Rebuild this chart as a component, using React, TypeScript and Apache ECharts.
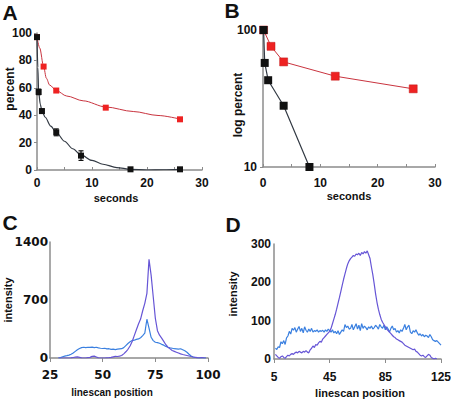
import React, { useEffect, useRef } from 'react';
import * as echarts from 'echarts';

// ---------- Panel A (percent vs seconds) ----------
const aBlackX = [0, 0.3, 0.9, 3.5, 8, 17, 26];
const aBlackY = [97, 57, 43, 27.5, 10.5, 0.5, 0.5];
const aBlackErr = [0, 2, 1.5, 2.5, 3.5, 0.8, 0.8];
const aRedX = [0, 1.2, 3.5, 12.5, 26];
const aRedY = [97, 75.5, 58, 45.5, 37];
// fitted curves
const aBlackFitX = [0, 0.15, 0.3, 0.6, 0.9, 1.5, 2.5, 3.5, 5, 6.5, 8, 10, 12, 14.5, 17, 20, 23, 26];
const aBlackFitY = [97, 75, 57, 48, 43, 38.5, 32, 27.5, 21, 15.5, 11, 7, 4.2, 1.8, 0.5, 0, 0.2, 0.5];
const aRedFitX = [0, 0.5, 1.2, 1.7, 2.3, 3.5, 5.4, 8.4, 12.5, 17.5, 22, 26];
const aRedFitY = [97, 89, 75.5, 67, 62, 58, 54, 50.5, 46, 42.7, 39.8, 37.2];

// ---------- Panel B (log percent vs seconds) ----------
const bBlackX = [0.1, 0.3, 0.9, 3.6, 8.1];
const bBlackY = [100, 57.5, 43, 28, 10];
const bRedX = [0.1, 1.4, 3.6, 12.6, 26.2];
const bRedY = [100, 76, 58.5, 46, 37.2];

// ---------- Panel C (intensity vs linescan position 29..99) ----------
const cStart = 29;
const cBlue = [
  0, 5, 15, 22, 28, 35, 45, 60, 80, 100,
  115, 125, 130, 125, 130, 128, 132, 126, 130, 122,
  118, 115, 118, 110, 112, 105, 108, 102, 106, 110,
  112, 125, 150, 175, 195, 210, 215, 225, 230, 245,
  270, 300, 468, 360, 250, 210, 190, 185, 178, 165,
  155, 140, 130, 122, 118, 112, 110, 108, 112, 100,
  88, 70, 45, 25, 12, 6, 0, 0, 0, 0, 0,
];
const cPurple = [
  0, 0, 0, 0, 0, 0, 2, 6, 10, 14,
  8, 2, 0, 0, 4, 8, 20, 22, 12, 2,
  0, 0, 0, 2, 4, 8, 14, 20, 18, 22,
  30, 50, 75, 105, 145, 200, 270, 340, 410, 470,
  570, 660, 780, 1190, 1000, 740, 480, 330, 275, 240,
  200, 160, 130, 110, 90, 80, 70, 60, 50, 42,
  36, 30, 24, 18, 12, 8, 4, 2, 6, 2, 0,
];

// ---------- Panel D (intensity vs linescan position) ----------
const dBlueStart = 6;
const dBlue = [
  28, 25, 32, 30, 45, 40, 48, 38, 55, 60,
  72, 65, 80, 75, 82, 70, 78, 85, 72, 80,
  68, 84, 75, 70, 78, 72, 80, 70, 74, 72,
  76, 70, 74, 72, 75, 70, 76, 72, 78, 74,
  70, 76, 68, 72, 66, 74, 64, 70, 76, 72,
  90, 82, 86, 78, 80, 90, 76, 84, 92, 78,
  88, 74, 92, 80, 86, 82, 76, 84, 80, 86,
  78, 82, 88, 84, 78, 90, 84, 80, 88, 76,
  84, 78, 70, 80, 86, 76, 80, 70, 74, 68,
  76, 72, 80, 90, 76, 84, 88, 70, 66, 74,
  70, 76, 68, 62, 66, 60, 64, 58, 62, 60,
  56, 64, 58, 50, 48, 46, 48, 44, 40, 36,
];
const dPurpleStart = 6;
const dPurple = [
  12, 8, 4, 2, 6, 8, 4, 2, 6, 10,
  8, 12, 14, 12, 16, 18, 16, 20, 18, 16,
  20, 18, 22, 18, 16, 24, 28, 34, 30, 38,
  36, 42, 46, 44, 52, 56, 60, 64, 68, 72,
  80, 92, 104, 116, 130, 145, 160, 176, 192, 208,
  222, 236, 248, 256, 262, 266, 270, 268, 274, 272,
  276, 270, 278, 274, 280, 276, 282, 272, 262, 240,
  220, 196, 170, 148, 130, 116, 104, 96, 90, 84,
  78, 74, 70, 66, 62, 58, 56, 52, 50, 48,
  46, 44, 40, 36, 34, 32, 30, 28, 26, 24,
  26, 20, 18, 14, 10, 8, 10, 6, 4, 8,
  12, 10, 4, 2, 0, 2, 0,
];

const ARIAL = '"Liberation Sans", Arial, Helvetica, sans-serif';
const WIDE = '"DejaVu Sans", Verdana, sans-serif';
const AXIS_COLOR = '#8c8c8c';
const RED_MARK = '#ee2222';
const RED_LINE = '#c9343f';
const BLACK_MARK = '#111111';
const BLACK_LINE = '#333a44';
const PURPLE = '#6655d6';
const BLUE = '#3b80e0';

const pairs = (xs: number[], ys: number[]) => xs.map((x, i) => [x, ys[i]]);
const seq = (start: number, ys: number[]) => ys.map((y, i) => [start + i, y]);

function valueAxis(grid: number, extra: any, labelFont: string, margin: number) {
  return {
    gridIndex: grid,
    type: 'value',
    splitLine: { show: false },
    axisLine: { show: true, lineStyle: { color: AXIS_COLOR, width: 1.5 } },
    axisTick: { show: true, length: 3, lineStyle: { color: AXIS_COLOR, width: 1 } },
    axisLabel: {
      margin,
      color: '#111',
      fontSize: 12,
      fontWeight: 'bold',
      fontFamily: labelFont,
      formatter: (v: number) => String(v),
    },
    ...extra,
  };
}

function label(text: string, x: number, y: number, size: number, rotate = false) {
  return {
    type: 'text',
    x,
    y,
    rotation: rotate ? Math.PI / 2 : 0,
    style: {
      text,
      fill: '#111',
      fontSize: size,
      fontWeight: 'bold',
      fontFamily: ARIAL,
      align: 'center',
      verticalAlign: 'middle',
    },
  };
}

export default function App() {
  const ref = useRef<HTMLDivElement>(null);
  useEffect(() => {
    document.body.style.margin = '0';
    const chart = echarts.init(ref.current!, undefined, { renderer: 'svg' });
    const option: any = {
      animation: false,
      backgroundColor: '#ffffff',
      grid: [
        { left: 37, top: 33, width: 165, height: 137, outerBoundsMode: 'none' },
        { left: 263, top: 30, width: 172, height: 137, outerBoundsMode: 'none' },
        { left: 50, top: 242, width: 158, height: 116, outerBoundsMode: 'none' },
        { left: 274, top: 244, width: 167, height: 115, outerBoundsMode: 'none' },
      ],
      xAxis: [
        valueAxis(0, {
          min: 0, max: 30, interval: 10,
          axisTick: { show: true, inside: true, length: 3, lineStyle: { color: AXIS_COLOR } },
          minorTick: { show: true, splitNumber: 2, length: 3, lineStyle: { color: AXIS_COLOR } },
          minorSplitLine: { show: false },
        }, ARIAL, 7),
        valueAxis(1, {
          min: 0, max: 30, interval: 10,
          axisTick: { show: true, inside: true, length: 3, lineStyle: { color: AXIS_COLOR } },
          minorTick: { show: true, splitNumber: 2, length: 3, lineStyle: { color: AXIS_COLOR } },
          minorSplitLine: { show: false },
        }, ARIAL, 10),
        valueAxis(2, { min: 25, max: 100, interval: 25,
          axisTick: { show: true, length: 4, lineStyle: { color: AXIS_COLOR } } }, WIDE, 11),
        valueAxis(3, { min: 5, max: 125, interval: 40,
          axisTick: { show: true, length: 4, lineStyle: { color: AXIS_COLOR } } }, ARIAL, 12),
      ],
      yAxis: [
        valueAxis(0, { min: 0, max: 100, interval: 20 }, ARIAL, 5),
        valueAxis(1, { type: 'log', logBase: 10, min: 10, max: 100,
          minorTick: { show: false } }, ARIAL, 6),
        valueAxis(2, { min: 0, max: 1400, interval: 700, axisTick: { show: false } }, WIDE, 2),
        valueAxis(3, { min: 0, max: 300, interval: 100, axisTick: { show: false } }, ARIAL, 3),
      ],
      graphic: [
        label('A', 10, 12.5, 21),
        label('B', 232, 10.5, 21),
        label('C', 10, 222, 21),
        label('D', 233, 224, 21),
        label('percent', 10, 89, 12, true),
        label('log percent', 238, 105, 12, true),
        label('intensity', 8, 300, 11, true),
        label('intensity', 233, 294, 11, true),
        label('seconds', 116, 198, 11),
        label('seconds', 349, 196, 11),
        label('linescan position', 112, 392, 10),
        label('linescan position', 360, 393, 11),
      ],
      series: [
        {
          type: 'line',
          xAxisIndex: 0,
          yAxisIndex: 0,
          data: pairs(aRedFitX, aRedFitY),
          smooth: 0.3,
          smoothMonotone: 'x',
          symbol: 'none',
          lineStyle: { color: RED_LINE, width: 1 },
          z: 2,
        },
        {
          type: 'line',
          xAxisIndex: 0,
          yAxisIndex: 0,
          data: pairs(aBlackFitX, aBlackFitY),
          smooth: 0.3,
          smoothMonotone: 'x',
          symbol: 'none',
          lineStyle: { color: BLACK_LINE, width: 1.2 },
          z: 2,
        },
        {
          type: 'custom',
          xAxisIndex: 0,
          yAxisIndex: 0,
          data: aBlackX.map((x, i) => [x, aBlackY[i], aBlackErr[i]]),
          z: 3,
          renderItem: (params: any, api: any) => {
            const x = api.value(0);
            const y = api.value(1);
            const e = api.value(2);
            const top = api.coord([x, y + e]);
            const bot = api.coord([x, y - e]);
            const w = 2.5;
            const style = { stroke: BLACK_MARK, lineWidth: 1.2 };
            return {
              type: 'group',
              children: [
                { type: 'line', shape: { x1: top[0], y1: top[1], x2: bot[0], y2: bot[1] }, style },
                { type: 'line', shape: { x1: top[0] - w, y1: top[1], x2: top[0] + w, y2: top[1] }, style },
                { type: 'line', shape: { x1: bot[0] - w, y1: bot[1], x2: bot[0] + w, y2: bot[1] }, style },
              ],
            };
          },
        },
        {
          type: 'scatter',
          xAxisIndex: 0,
          yAxisIndex: 0,
          data: pairs(aRedX, aRedY),
          symbol: 'rect',
          symbolSize: 6,
          itemStyle: { color: RED_MARK, opacity: 1 },
          z: 4,
        },
        {
          type: 'scatter',
          xAxisIndex: 0,
          yAxisIndex: 0,
          data: pairs(aBlackX, aBlackY),
          symbol: 'rect',
          symbolSize: 6,
          itemStyle: { color: BLACK_MARK, opacity: 1 },
          z: 5,
        },
        {
          type: 'line',
          xAxisIndex: 1,
          yAxisIndex: 1,
          data: pairs(bRedX, bRedY),
          symbol: 'rect',
          symbolSize: 8,
          itemStyle: { color: RED_MARK, borderColor: '#c01818', borderWidth: 0.5 },
          lineStyle: { color: RED_LINE, width: 1 },
          z: 2,
        },
        {
          type: 'line',
          xAxisIndex: 1,
          yAxisIndex: 1,
          data: pairs(bBlackX, bBlackY),
          symbol: 'rect',
          symbolSize: 8,
          itemStyle: { color: BLACK_MARK },
          lineStyle: { color: BLACK_LINE, width: 1.2 },
          z: 4,
        },
        {
          type: 'line',
          xAxisIndex: 2,
          yAxisIndex: 2,
          data: seq(cStart, cBlue),
          showSymbol: false,
          symbol: 'none',
          lineStyle: { color: BLUE, width: 1.2 },
        },
        {
          type: 'line',
          xAxisIndex: 2,
          yAxisIndex: 2,
          data: seq(cStart, cPurple),
          showSymbol: false,
          symbol: 'none',
          lineStyle: { color: PURPLE, width: 1.2 },
        },
        {
          type: 'line',
          xAxisIndex: 3,
          yAxisIndex: 3,
          data: seq(dBlueStart, dBlue),
          showSymbol: false,
          symbol: 'none',
          lineStyle: { color: BLUE, width: 1.2 },
        },
        {
          type: 'line',
          xAxisIndex: 3,
          yAxisIndex: 3,
          data: seq(dPurpleStart, dPurple),
          showSymbol: false,
          symbol: 'none',
          lineStyle: { color: PURPLE, width: 1.2 },
        },
      ],
    };
    chart.setOption(option);
    return () => chart.dispose();
  }, []);
  return <div ref={ref} style={{ width: 451, height: 400, background: '#fff' }} />;
}
